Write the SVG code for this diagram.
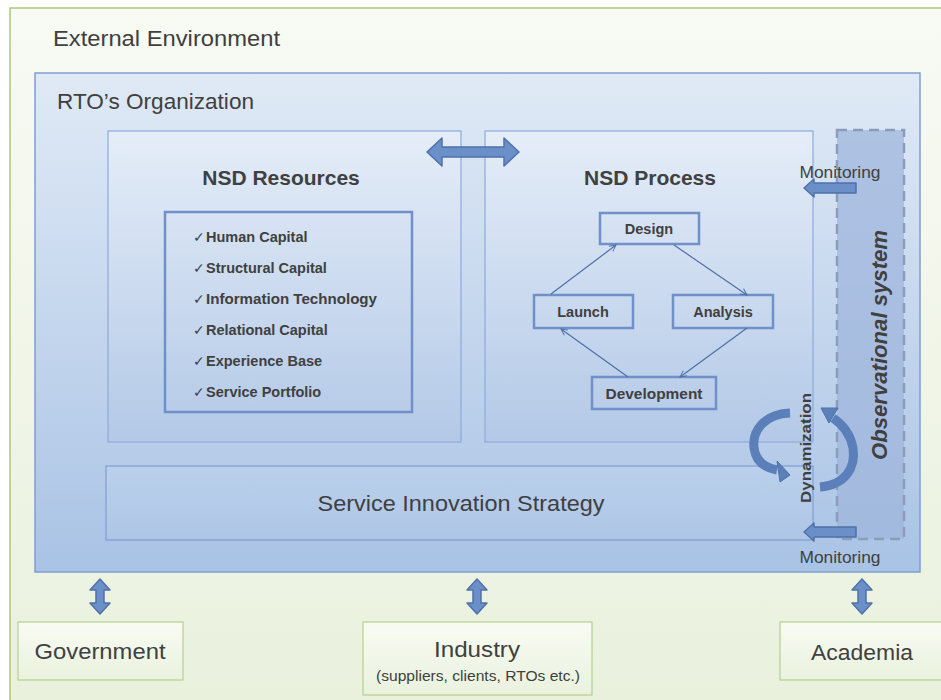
<svg xmlns="http://www.w3.org/2000/svg" width="941" height="700" viewBox="0 0 941 700">
<defs>
  <linearGradient id="gEnv" x1="0" y1="0" x2="0" y2="1">
    <stop offset="0" stop-color="#f8faf4"/>
    <stop offset="1" stop-color="#e9f1dd"/>
  </linearGradient>
  <linearGradient id="gOrg" x1="0" y1="0" x2="0" y2="1">
    <stop offset="0" stop-color="#e0eaf6"/>
    <stop offset="1" stop-color="#a9c3e5"/>
  </linearGradient>
  <linearGradient id="gBox" x1="0" y1="0" x2="0" y2="1">
    <stop offset="0" stop-color="#e5edf8"/>
    <stop offset="1" stop-color="#b3c9e7"/>
  </linearGradient>
  <linearGradient id="gSis" x1="0" y1="0" x2="0" y2="1">
    <stop offset="0" stop-color="#bad0ec"/>
    <stop offset="1" stop-color="#aec6e6"/>
  </linearGradient>
  <linearGradient id="gExt" x1="0" y1="0" x2="0" y2="1">
    <stop offset="0" stop-color="#f8fbf3"/>
    <stop offset="1" stop-color="#eaf2de"/>
  </linearGradient>
  <marker id="open" viewBox="0 0 10 10" refX="9" refY="5" markerWidth="8" markerHeight="8" markerUnits="userSpaceOnUse" orient="auto">
    <path d="M1,1 L9,5 L1,9" fill="none" stroke="#4f6fa6" stroke-width="1.2"/>
  </marker>
</defs>
<style>
  text { font-family: "Liberation Sans", Arial, sans-serif; fill: #404040; }
  .panel { fill: url(#gBox); stroke: #8eaadb; stroke-width: 1.2; }
  .node { fill: none; stroke: #6f90c8; stroke-width: 2.5; }
  .nodetxt { font-size: 14.5px; font-weight: bold; text-anchor: middle; }
  .item { font-size: 14.5px; font-weight: bold; }
  .chk { font-size: 14px; }
  .title { font-size: 21px; font-weight: bold; text-anchor: middle; }
  .blk { fill: #6b8fc8; stroke: #4f72a8; stroke-width: 1.5; stroke-linejoin: round; }
  .thin { fill: none; stroke: #4f6fa6; stroke-width: 1.2; marker-end: url(#open); }
  .ext { fill: url(#gExt); stroke: #b7cf8c; stroke-width: 1.2; }
  .mon { font-size: 16.5px; text-anchor: middle; }
  .curve { fill: none; stroke: #5b7fb8; stroke-width: 9; }
</style>

<g id="external-environment">
  <rect x="10" y="8" width="940" height="700" fill="url(#gEnv)" stroke="#9bbb59" stroke-width="1.2"/>
  <text x="53" y="46" font-size="21.5" textLength="227" lengthAdjust="spacingAndGlyphs">External Environment</text>
</g>

<g id="rto-organization">
  <rect x="35" y="73" width="885" height="499" fill="url(#gOrg)" stroke="#7f9fcf" stroke-width="1.5"/>
  <text x="57" y="109" font-size="21.5" textLength="197" lengthAdjust="spacingAndGlyphs">RTO’s Organization</text>
</g>

<g id="nsd-resources">
  <rect class="panel" x="108" y="131" width="353" height="311"/>
  <text class="title" x="281" y="185">NSD Resources</text>
  <rect class="node" x="165" y="212" width="247" height="200"/>
  <text class="chk" x="193" y="242">✓</text><text class="item" x="206" y="242">Human Capital</text>
  <text class="chk" x="193" y="273">✓</text><text class="item" x="206" y="273">Structural Capital</text>
  <text class="chk" x="193" y="304">✓</text><text class="item" x="206" y="304" textLength="171" lengthAdjust="spacingAndGlyphs">Information Technology</text>
  <text class="chk" x="193" y="335">✓</text><text class="item" x="206" y="335">Relational Capital</text>
  <text class="chk" x="193" y="366">✓</text><text class="item" x="206" y="366">Experience Base</text>
  <text class="chk" x="193" y="397">✓</text><text class="item" x="206" y="397">Service Portfolio</text>
</g>

<g id="nsd-process">
  <rect class="panel" x="485" y="131" width="328" height="311"/>
  <text class="title" x="650" y="185">NSD Process</text>
</g>

<g id="service-innovation-strategy">
  <rect x="106" y="466" width="707" height="74" fill="url(#gSis)" stroke="#7f9fcf" stroke-width="1.2"/>
  <text x="461" y="511" font-size="21.5" text-anchor="middle" textLength="287" lengthAdjust="spacingAndGlyphs">Service Innovation Strategy</text>
</g>

<g id="observational-system">
  <rect x="837" y="130" width="67" height="409" fill="#9fb6dc" fill-opacity="0.75" stroke="#8a9dbb" stroke-width="2.5" stroke-dasharray="10,6"/>
  <text transform="translate(887,345) rotate(-90)" font-size="22" font-weight="bold" font-style="italic" text-anchor="middle" textLength="230" lengthAdjust="spacingAndGlyphs">Observational system</text>
</g>

<g id="design">
  <rect class="node" x="600" y="213" width="99" height="31"/>
  <text class="nodetxt" x="649" y="234">Design</text>
</g>
<g id="launch">
  <rect class="node" x="534" y="295" width="99" height="33"/>
  <text class="nodetxt" x="583" y="317">Launch</text>
</g>
<g id="analysis">
  <rect class="node" x="673" y="295" width="100" height="33"/>
  <text class="nodetxt" x="723" y="317">Analysis</text>
</g>
<g id="development">
  <rect class="node" x="592" y="377" width="124" height="32"/>
  <text class="nodetxt" x="654" y="399" textLength="97" lengthAdjust="spacingAndGlyphs">Development</text>
</g>

<g id="government">
  <rect class="ext" x="18" y="622" width="165" height="58"/>
  <text x="100" y="659" font-size="22" text-anchor="middle" textLength="131" lengthAdjust="spacingAndGlyphs">Government</text>
</g>
<g id="industry">
  <rect class="ext" x="363" y="622" width="229" height="73"/>
  <text x="477" y="657" font-size="22" text-anchor="middle" textLength="86" lengthAdjust="spacingAndGlyphs">Industry</text>
  <text x="478" y="681" font-size="14.5" text-anchor="middle" textLength="204" lengthAdjust="spacingAndGlyphs">(suppliers, clients,  RTOs etc.)</text>
</g>
<g id="academia">
  <rect class="ext" x="780" y="622" width="170" height="58"/>
  <text x="862" y="660" font-size="22" text-anchor="middle" textLength="102" lengthAdjust="spacingAndGlyphs">Academia</text>
</g>

<g id="connectors">
  <line class="thin" x1="551" y1="294" x2="616" y2="245"/>
  <line class="thin" x1="674" y1="245" x2="747" y2="295"/>
  <line class="thin" x1="747" y1="328" x2="680" y2="377"/>
  <line class="thin" x1="628" y1="377" x2="561" y2="329"/>

  <path class="blk" d="M427,152 L442,138 L442,147 L504,147 L504,138 L519,152 L504,166 L504,157 L442,157 L442,166 Z"/>

  <path class="blk" d="M804,188 L814,179 L814,183 L856,183 L856,193 L814,193 L814,197 Z"/>
  <path class="blk" d="M804,532 L814,523 L814,527 L856,527 L856,537 L814,537 L814,541 Z"/>
  <text class="mon" x="840" y="178" textLength="81" lengthAdjust="spacingAndGlyphs">Monitoring</text>
  <text class="mon" x="840" y="563" textLength="81" lengthAdjust="spacingAndGlyphs">Monitoring</text>

  <path class="curve" d="M790,413 C765,414 752,430 754,448 C756,462 766,468 777,470"/>
  <path d="M790,475 L777,461 L780,482 Z" fill="#5b7fb8" stroke="#4f72a8" stroke-width="1"/>
  <path class="curve" d="M820,487 C845,485 856,468 853,448 C850,432 842,424 833,418"/>
  <path d="M821,408 L838,408 L829,423 Z" fill="#5b7fb8" stroke="#4f72a8" stroke-width="1"/>
  <text transform="translate(811,448) rotate(-90)" font-size="15.5" font-weight="bold" text-anchor="middle" textLength="110" lengthAdjust="spacingAndGlyphs">Dynamization</text>

  <path class="blk" d="M100,579 L110,590 L104,590 L104,603 L110,603 L100,614 L90,603 L96,603 L96,590 L90,590 Z"/>
  <path class="blk" d="M477,579 L487,590 L481,590 L481,603 L487,603 L477,614 L467,603 L473,603 L473,590 L467,590 Z"/>
  <path class="blk" d="M862,579 L872,590 L866,590 L866,603 L872,603 L862,614 L852,603 L858,603 L858,590 L852,590 Z"/>
</g>
</svg>
